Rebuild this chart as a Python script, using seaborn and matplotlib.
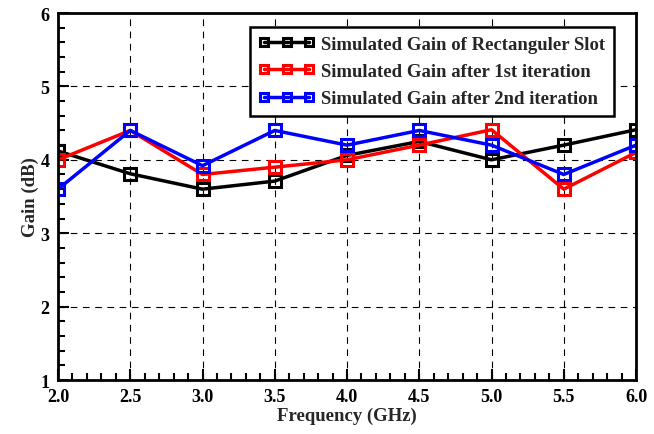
import matplotlib
matplotlib.use("Agg")
import matplotlib.pyplot as plt
import seaborn as sns
import pandas as pd
from matplotlib.ticker import MultipleLocator

freq = [2.0, 2.5, 3.0, 3.5, 4.0, 4.5, 5.0, 5.5, 6.0]
gain_rect = [4.12, 3.81, 3.60, 3.71, 4.06, 4.25, 4.00, 4.20, 4.41]
gain_iter1 = [4.00, 4.40, 3.80, 3.90, 4.00, 4.20, 4.41, 3.60, 4.10]
gain_iter2 = [3.60, 4.40, 3.92, 4.40, 4.20, 4.40, 4.20, 3.80, 4.20]
labels = ["Simulated Gain of Rectanguler Slot",
          "Simulated Gain after 1st iteration",
          "Simulated Gain after 2nd iteration"]
colors = ["black", "#ff0000", "#0000ff"]

sns.set_style("white")
plt.rcParams['font.family'] = ['Liberation Serif', 'DejaVu Serif']
plt.rcParams['font.weight'] = 'bold'

fig = plt.figure(figsize=(6.54, 4.35), dpi=100)
ax = fig.add_axes([0.0887, 0.1241, 0.8838, 0.8437])

for series, lab, c in zip([gain_rect, gain_iter1, gain_iter2], labels, colors):
    df = pd.DataFrame({"f": freq, "g": series})
    sns.lineplot(data=df, x="f", y="g", ax=ax, color=c, linewidth=2.5,
                 marker="s", markersize=8, markerfacecolor="none",
                 markeredgecolor=c, markeredgewidth=2.2, label=lab)

ax.set_xlim(2.0, 6.0)
ax.set_ylim(1, 6)
ax.xaxis.set_major_locator(MultipleLocator(0.5))
ax.xaxis.set_minor_locator(MultipleLocator(0.1))
ax.yaxis.set_major_locator(MultipleLocator(1))
ax.yaxis.set_minor_locator(MultipleLocator(0.2))
ax.set_xticklabels([f"{v:.1f}" for v in ax.get_xticks()])
ax.grid(True, which="major", linestyle=(0, (6, 5)), color="black", linewidth=0.8)
ax.tick_params(which="both", direction="in", colors="black", labelsize=13, width=1.5,
               bottom=True, left=True, top=False, right=False)
ax.tick_params(which="major", length=8)
ax.tick_params(which="minor", length=5)
ax.tick_params(axis="x", pad=6)
ax.tick_params(axis="y", pad=6)
for lbl in ax.get_xticklabels() + ax.get_yticklabels():
    lbl.set_fontweight("bold")
for sp in ax.spines.values():
    sp.set_visible(True)
    sp.set_color("black")
    sp.set_linewidth(2)

ax.set_xlabel("Frequency (GHz)", fontsize=13.5, fontweight="bold", labelpad=1)
ax.set_ylabel("Gain (dB)", fontsize=13.5, fontweight="bold", labelpad=1)

leg = ax.legend(loc="upper right", bbox_to_anchor=(0.962, 0.962), numpoints=3,
                handlelength=3.0, frameon=True, fancybox=False,
                borderpad=0.45, labelspacing=0.55, handletextpad=0.35,
                borderaxespad=0.0,
                prop={"weight": "bold", "size": 13.5})
leg.get_frame().set_edgecolor("black")
leg.get_frame().set_linewidth(1.8)
leg.get_frame().set_alpha(1)
for h in leg.legend_handles:
    h.set_markersize(6)

fig.savefig("out.png", dpi=100)
